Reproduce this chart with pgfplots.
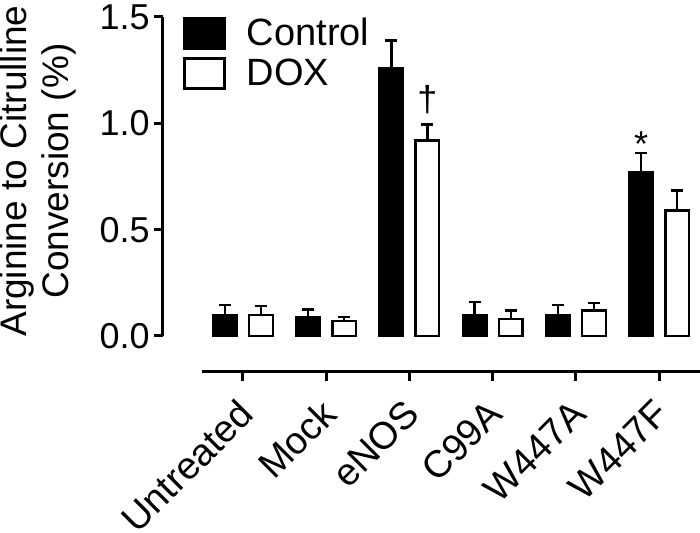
\documentclass[border=0pt]{standalone}
\usepackage{fontspec}
\setmainfont{Liberation Sans}
\usepackage{pgfplots}
\pgfplotsset{compat=1.18}
\pgfplotsset{
  errstyle/.style={draw=none, mark=none, forget plot,
    error bars/.cd, y dir=plus, y explicit,
    error bar style={line width=1.2pt, black, solid},
    error mark=-,
    error mark options={line width=1.2pt, mark size=3pt, black, rotate=90}},
}
\begin{document}
\begin{tikzpicture}
\useasboundingbox (-81.5pt,-80.5pt) rectangle (268.5pt,186pt);
\begin{axis}[
  at={(0pt,0pt)}, anchor=south west,
  scale only axis, width=268.5pt, height=177.5pt,
  xmin=-0.96, xmax=5.49, ymin=-0.1693, ymax=1.5,
  clip=false,
  axis x line*=bottom, axis y line*=left,
  x axis line style={shorten <=19.5pt, line width=1.5pt, -},
  y axis line style={shorten <=18pt, line width=1.5pt, -},
  tick align=outside, major tick length=4.5pt,
  tick style={line width=1.5pt, black},
  xtick={0,1,2,3,4,5},
  xticklabels={Untreated,Mock,eNOS,C99A,W447A,W447F},
  ytick={0,0.5,1,1.5},
  /pgf/number format/assume math mode=true,
  yticklabel style={font=\fontsize{18}{21}\selectfont, inner sep=2pt, /pgf/number format/.cd, fixed, fixed zerofill, precision=1},
  xticklabel style={font=\fontsize{19}{22}\selectfont, xshift=3pt, yshift=-11.5pt, rotate=45, anchor=east, inner sep=2pt},
  legend style={at={(axis description cs:0.0372,1.003)}, anchor=north west,
    draw=none, fill=none, inner sep=0pt, row sep=3pt,
    font=\fontsize{19}{22}\selectfont,
    nodes={inner sep=1pt},
    /tikz/every odd column/.style={column sep=9.5pt}},
  legend cell align=left,
]
\addplot[ybar, bar width=11.8pt, bar shift=-9pt, fill=black, draw=black, line width=1.2pt,
  legend image code/.code={\draw[line width=1.2pt, fill=black] (0pt,-7.5pt) rectangle (20pt,7.5pt);}]
coordinates {(0,0.10) (1,0.09) (2,1.26) (3,0.10) (4,0.10) (5,0.77)};
\addlegendentry{Control}
\addplot[ybar, bar width=11.8pt, bar shift=9pt, fill=white, draw=black, line width=1.2pt,
  legend image code/.code={\draw[line width=1.2pt, fill=white] (0pt,-7.5pt) rectangle (20pt,7.5pt);}]
coordinates {(0,0.10) (1,0.07) (2,0.92) (3,0.08) (4,0.12) (5,0.59)};
\addlegendentry{DOX}
% error bars (Control, DOX) at the bar centres
\addplot[errstyle] coordinates {
  (-0.2163,0.10) +- (0,0.045)
  (0.7837,0.09) +- (0,0.035)
  (1.7837,1.26) +- (0,0.13)
  (2.7837,0.10) +- (0,0.06)
  (3.7837,0.10) +- (0,0.045)
  (4.7837,0.77) +- (0,0.09)
};
\addplot[errstyle] coordinates {
  (0.2163,0.10) +- (0,0.04)
  (1.2163,0.07) +- (0,0.02)
  (2.2163,0.92) +- (0,0.075)
  (3.2163,0.08) +- (0,0.04)
  (4.2163,0.12) +- (0,0.035)
  (5.2163,0.59) +- (0,0.095)
};
\node[font=\fontsize{18}{20}\selectfont] at (axis cs:2.2163,1.11) {†};
\node[font=\fontsize{18}{20}\selectfont] at (axis cs:4.7837,0.90) {*};
\node[rotate=90, align=center, font=\fontsize{18.5}{21}\selectfont] at (axis description cs:-0.2328,0.566) {Arginine to Citrulline\\Conversion (\%)};
\end{axis}
\end{tikzpicture}
\end{document}
